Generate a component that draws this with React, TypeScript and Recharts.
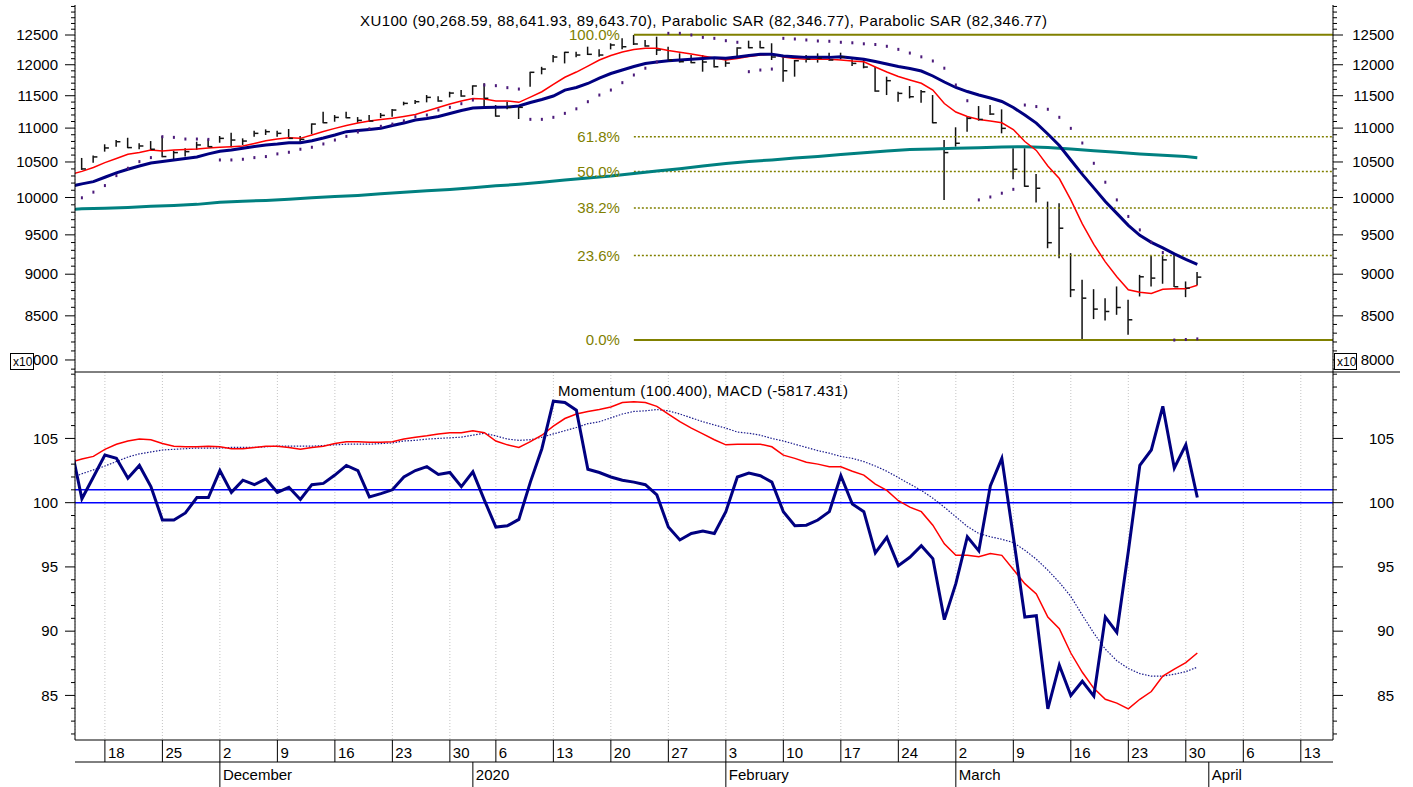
import React from 'react';
import { ComposedChart, Line, Bar, Scatter, XAxis, YAxis, CartesianGrid, ReferenceLine } from 'recharts';

const FONT = "'Liberation Sans', Arial, sans-serif";
const OLIVE = '#808000';

// trading days, index 0 = 14 Nov 2019; line series start one day earlier (13 Nov)
const mondayIdx = [2, 7, 12, 17, 22, 27, 32, 36, 41, 46, 51, 56, 61, 66, 71, 76, 81, 86, 91, 96, 101, 106];
const mondayLabels = ['18', '25', '2', '9', '16', '23', '30', '6', '13', '20', '27', '3', '10', '17', '24', '2', '9', '16', '23', '30', '6', '13'];
const monthIdx = [12, 34, 56, 76, 98];
const monthLabels = ['December', '2020', 'February', 'March', 'April'];

// XU100 / 10, 14 Nov .. 31 Mar
const high = [
  10558, 10592, 10758, 10821, 10855, 10773, 10806, 10881, 10665, 10700,
  10796, 10831, 10881, 10931, 10846, 10960, 10981, 10960, 10986, 10881,
  11072, 11250, 11199, 11250, 11168, 11199, 11230, 11292, 11406, 11432,
  11511, 11490, 11563, 11590, 11666, 11698, 11354, 11406, 11354, 11886,
  11966, 12161, 12216, 12216, 12301, 12256, 12359, 12443, 12500, 12415,
  12471, 12302, 12189, 12161, 12161, 12089, 12089, 12290, 12403, 12403,
  12359, 12161, 12078, 12161, 12189, 12200, 12200, 12089, 12078, 11967,
  11805, 11563, 11655, 11590, 11511, 10821, 11012, 11173, 11338, 11354,
  11287, 10700, 10700, 10329, 9944, 9922, 9264, 8931, 8817, 8709,
  8850, 8689, 8992, 9230, 9242, 9242, 8911, 9027,
];
const low = [
  10386, 10490, 10650, 10723, 10700, 10685, 10675, 10568, 10539, 10578,
  10675, 10714, 10781, 10714, 10748, 10871, 10896, 10871, 10836, 10796,
  10911, 11072, 11097, 11148, 11081, 11097, 11153, 11173, 11349, 11370,
  11396, 11406, 11474, 11484, 11511, 11328, 11173, 11287, 11138, 11644,
  11843, 12041, 12022, 12122, 12161, 12133, 12256, 12256, 12330, 12302,
  12161, 12050, 12035, 12025, 11886, 11956, 11966, 12145, 12273, 12273,
  12078, 11724, 11805, 12035, 12035, 12066, 12089, 11978, 11941, 11563,
  11511, 11406, 11458, 11391, 11072, 9967, 10723, 10946, 11112, 11199,
  10921, 10254, 10147, 9930, 9327, 9200, 8721, 8222, 8462, 8446,
  8512, 8282, 8729, 8850, 8883, 8842, 8721, 8864,
];
const close = [
  10400, 10573, 10704, 10796, 10709, 10733, 10685, 10578, 10636, 10650,
  10748, 10723, 10846, 10821, 10806, 10921, 10946, 10921, 10846, 10831,
  11061, 11081, 11163, 11157, 11117, 11107, 11194, 11276, 11380, 11406,
  11474, 11417, 11542, 11495, 11655, 11460, 11183, 11318, 11318, 11876,
  11929, 12128, 12206, 12161, 12173, 12161, 12330, 12300, 12347, 12313,
  12245, 12078, 12050, 12035, 12045, 11967, 12027, 12279, 12284, 12284,
  12128, 11901, 12066, 12094, 12111, 12078, 12128, 12022, 11962, 11574,
  11740, 11537, 11484, 11563, 11081, 10636, 10773, 11148, 11132, 11214,
  10996, 10395, 10156, 10128, 9398, 9587, 8809, 8709, 8579, 8551,
  8598, 8454, 8968, 8952, 9179, 8846, 8830, 8964,
];
const sar = [
  9996, 10074, 10165, 10305, 10410, 10505, 10563, 10871, 10861, 10836,
  10836, 10831, 10529, 10529, 10539, 10563, 10578, 10617, 10641, 10685,
  10714, 10763, 10821, 10876, 10941, 10989, 11027, 11061, 11110, 11173,
  11199, 11276, 11318, 11375, 11432, 11671, 11660, 11628, 11606, 11133,
  11133, 11164, 11225, 11295, 11406, 11511, 11590, 11708, 11832, 11943,
  12045, 12529, 12529, 12500, 12460, 12443, 12403, 12376, 11886, 11913,
  11929, 12443, 12432, 12415, 12398, 12393, 12376, 12367, 12350, 12338,
  12308, 12256, 12194, 12131, 12062, 11943, 11671, 11421, 9967, 10007,
  10059, 10113, 11354, 11330, 11288, 11164, 10996, 10777, 10481, 10212,
  9967, 9743, 9565, 9404, 9272, 8222, 8228, 8235,
];

// moving averages, 13 Nov .. 31 Mar
const redMA = [
  10322,
  10365, 10421, 10490, 10550, 10612, 10638, 10675, 10660, 10675, 10682,
  10690, 10704, 10714, 10723, 10733, 10770, 10811, 10836, 10855, 10846,
  10896, 10949, 10996, 11039, 11076, 11107, 11130, 11148, 11176, 11207,
  11261, 11315, 11370, 11417, 11456, 11448, 11417, 11417, 11396, 11479,
  11563, 11679, 11795, 11880, 11978, 12078, 12153, 12211, 12253, 12273,
  12273, 12236, 12206, 12178, 12145, 12111, 12078, 12103, 12136, 12161,
  12178, 12128, 12103, 12089, 12089, 12089, 12078, 12061, 12050, 11962,
  11880, 11808, 11751, 11698, 11590, 11377, 11245, 11176, 11132, 11107,
  11081, 10979, 10799, 10668, 10443, 10264, 9967, 9644, 9376, 9154,
  8968, 8809, 8779, 8764, 8815, 8821, 8821, 8864,
];
const navyMA = [
  10154,
  10189, 10220, 10282, 10343, 10396, 10443, 10486, 10507, 10529, 10550,
  10573, 10617, 10656, 10675, 10700, 10726, 10748, 10763, 10782, 10782,
  10811, 10851, 10896, 10946, 10964, 10979, 10996, 11039, 11076, 11122,
  11145, 11176, 11222, 11268, 11307, 11315, 11318, 11323, 11338, 11393,
  11440, 11495, 11590, 11631, 11695, 11783, 11856, 11913, 11970, 12020,
  12045, 12066, 12078, 12089, 12103, 12116, 12106, 12128, 12153, 12173,
  12173, 12145, 12133, 12122, 12122, 12122, 12133, 12111, 12089, 12053,
  12011, 11970, 11937, 11897, 11816, 11719, 11631, 11566, 11511, 11464,
  11409, 11315, 11199, 11076, 10911, 10741, 10529, 10322, 10133, 9946,
  9784, 9625, 9494, 9402, 9331, 9255, 9185, 9122,
];
const tealMA = [
  9838,
  9845, null, 9855, null, 9865, null, 9879, null, 9892, null,
  9906, null, 9936, null, 9949, null, 9960, null, 9977, null,
  9995, null, 10013, null, 10029, null, 10050, null, 10073, null,
  10094, null, 10112, null, 10136, null, 10161, null, 10182, null,
  10210, null, 10244, null, 10272, null, 10300, null, 10336, null,
  10369, null, 10403, null, 10443, null, 10479, null, 10507, null,
  10529, null, 10558, null, 10580, null, 10609, null, 10634, null,
  10660, null, 10680, null, 10690, null, 10699, null, 10708, null,
  10717, null, 10723, null, 10712, null, 10690, null, 10663, null,
  10641, null, 10617, null, 10597, null, 10578, 10562,
];

// lower panel, 13 Nov .. 31 Mar
const momentum = [
  104.6,
  100.3, 102.0, 103.7, 103.45, 101.9, 102.9, 101.25, 98.65, 98.65, 99.2,
  100.4, 100.4, 102.5, 100.8, 101.75, 101.4, 101.85, 100.8, 101.2, 100.25,
  101.4, 101.5, 102.15, 102.9, 102.5, 100.45, 100.7, 101.0, 102.0, 102.5,
  102.8, 102.2, 102.35, 101.25, 102.4, 100.2, 98.1, 98.2, 98.7, 101.6,
  104.2, 107.9, 107.8, 107.2, 102.6, 102.35, 102.0, 101.75, 101.6, 101.4,
  100.6, 98.1, 97.1, 97.6, 97.8, 97.6, 99.3, 102.0, 102.3, 102.1,
  101.6, 99.3, 98.2, 98.25, 98.65, 99.3, 102.1, 99.9, 99.3, 96.1,
  97.3, 95.1, 95.75, 96.65, 95.65, 90.9, 93.7, 97.35, 96.25, 101.3,
  103.45, 97.35, 91.1, 91.2, 83.95, 87.35, 85.0, 86.1, 84.95, 91.1,
  89.9, 96.2, 102.9, 104.1, 107.5, 102.7, 104.5, 100.4,
];
const macd = [
  103.15,
  103.4, 103.6, 104.15, 104.55, 104.8, 104.95, 104.9, 104.6, 104.4, 104.35,
  104.35, 104.4, 104.35, 104.2, 104.2, 104.3, 104.4, 104.4, 104.3, 104.15,
  104.3, 104.4, 104.6, 104.75, 104.75, 104.7, 104.7, 104.75, 104.95, 105.1,
  105.2, 105.35, 105.45, 105.45, 105.6, 105.45, 104.8, 104.5, 104.3, 104.75,
  105.25, 105.95, 106.55, 106.9, 107.1, 107.25, 107.45, 107.8, 107.85, 107.8,
  107.5, 106.9, 106.3, 105.8, 105.35, 104.9, 104.5, 104.55, 104.55, 104.55,
  104.35, 103.7, 103.45, 103.15, 103.0, 102.8, 102.8, 102.45, 102.15, 101.45,
  100.95, 100.15, 99.65, 99.3, 98.25, 96.8, 95.9, 95.9, 95.8, 96.05,
  95.9, 94.8, 93.7, 92.9, 91.1, 90.2, 88.3, 86.8, 85.55, 84.7,
  84.4, 83.95, 84.7, 85.3, 86.5, 87.05, 87.55, 88.3,
];
const signal = [
  101.9,
  102.25, 102.55, 102.85, 103.2, 103.55, 103.8, 103.95, 104.1, 104.15, 104.2,
  104.25, 104.25, 104.25, 104.3, 104.3, 104.3, 104.35, 104.4, 104.4, 104.4,
  104.4, 104.45, 104.5, 104.55, 104.55, 104.55, 104.6, 104.65, 104.8, 104.85,
  104.95, 105.0, 105.05, 105.1, 105.25, 105.4, 105.2, 104.95, 104.85, 104.9,
  105.1, 105.35, 105.6, 105.85, 106.15, 106.3, 106.6, 106.9, 107.1, 107.15,
  107.25, 107.15, 106.9, 106.6, 106.3, 106.05, 105.8, 105.5, 105.4, 105.25,
  105.0, 104.8, 104.55, 104.3, 104.05, 103.85, 103.6, 103.45, 103.2, 102.85,
  102.45, 101.95, 101.45, 100.95, 100.35, 99.65, 98.9, 98.15, 97.6, 97.35,
  97.15, 96.9, 96.3, 95.6, 94.75, 93.8, 92.7, 91.25, 89.85, 88.6,
  87.7, 87.1, 86.7, 86.5, 86.5, 86.65, 86.85, 87.2,
];

// fibonacci retracement (low 17 Mar, high 22 Jan)
const fibStart = 48;
const fibLabels = ['0.0%', '23.6%', '38.2%', '50.0%', '61.8%', '100.0%'];
const fibValues = [8222, 9233, 9858, 10364, 10869, 12505];

const priceTicks = [
  7900, 8000, 8100, 8200, 8300, 8400, 8500, 8600, 8700, 8800, 8900, 9000, 9100, 9200, 9300,
  9400, 9500, 9600, 9700, 9800, 9900, 10000, 10100, 10200, 10300, 10400, 10500, 10600, 10700,
  10800, 10900, 11000, 11100, 11200, 11300, 11400, 11500, 11600, 11700, 11800, 11900, 12000,
  12100, 12200, 12300, 12400, 12500, 12600, 12700, 12800, 12900, 13000,
];
const momTicks = [
  82, 83, 84, 85, 86, 87, 88, 89, 90, 91, 92, 93, 94, 95, 96, 97, 98, 99, 100,
  101, 102, 103, 104, 105, 106, 107, 108, 109, 110,
];

const X_DOMAIN: [number, number] = [-0.6, 108.8];

const topRows = redMA.map((r, k) => {
  const j = k - 1;
  return {
    i: j,
    red: r,
    navy: navyMA[k],
    teal: tealMA[k],
    hl: j >= 0 ? [low[j], high[j]] : null,
    close: j >= 0 ? close[j] : null,
    sar: j >= 0 ? sar[j] : null,
  };
});
const barRows = topRows.filter((r) => r.close != null);

const lowRows = momentum.map((m, k) => ({ i: k - 1, mom: m, macd: macd[k], sig: signal[k] }));

function ValueTick(props: any) {
  const { x, y, payload, side, isMajor } = props;
  const v = payload.value;
  const major = isMajor(v);
  const len = major ? 10 : 4;
  const left = side === 'l';
  return (
    <g>
      <line x1={left ? x - len : x} x2={left ? x : x + len} y1={y} y2={y} stroke="#000" />
      {major && (
        <text x={left ? x - 17 : x + 61} y={y} dy="0.35em" textAnchor="end" fontSize={15} fontFamily={FONT} fill="#000">
          {v}
        </text>
      )}
    </g>
  );
}

function DateTick(props: any) {
  const { x, y, payload, ticks, labels, h } = props;
  const n = ticks.indexOf(payload.value);
  return (
    <g>
      <line x1={x} x2={x} y1={y} y2={y + h} stroke="#000" />
      <text x={x + 3} y={y + 18} fontSize={15} fontFamily={FONT} fill="#000">
        {labels[n]}
      </text>
    </g>
  );
}

const isPriceMajor = (v: number) => v % 500 === 0 && v <= 12500;
const isMomMajor = (v: number) => v % 5 === 0 && v >= 85 && v <= 105;

export default function App() {
  return (
    <div style={{ position: 'absolute', left: 0, top: 0, width: 1413, height: 787, background: '#fff', fontFamily: FONT }}>
      <div style={{ position: 'absolute', left: 0, top: 0 }}>
        <ComposedChart width={1413} height={372} data={topRows} margin={{ top: 5, right: 0, bottom: 0, left: 0 }}>
          <CartesianGrid horizontal={false} stroke="#c4c4c4" strokeDasharray="1 2" />
          <XAxis dataKey="i" type="number" domain={X_DOMAIN} allowDataOverflow ticks={mondayIdx} height={0}
            tick={false} axisLine={false} tickLine={false} />
          <YAxis yAxisId="l" orientation="left" width={75} scale="log" domain={[7869, 13026]} allowDataOverflow
            ticks={priceTicks} interval={0} tickSize={0} tickMargin={0} axisLine={{ stroke: '#000' }} tickLine={false}
            tick={(p: any) => <ValueTick {...p} side="l" isMajor={isPriceMajor} />} />
          <YAxis yAxisId="r" orientation="right" width={80} scale="log" domain={[7869, 13026]} allowDataOverflow
            ticks={priceTicks} interval={0} tickSize={0} tickMargin={0} axisLine={{ stroke: '#000' }} tickLine={false}
            tick={(p: any) => <ValueTick {...p} side="r" isMajor={isPriceMajor} />} />
          {fibValues.map((v, n) => (
            <ReferenceLine key={n} yAxisId="l" segment={[{ x: fibStart, y: v }, { x: X_DOMAIN[1], y: v }]}
              stroke={OLIVE} strokeWidth={n === 0 || n === 5 ? 2 : 1.5} strokeDasharray={n === 0 || n === 5 ? undefined : '2 2'}
              label={{ value: fibLabels[n], position: 'left', offset: 14, fill: OLIVE, fontSize: 15, fontFamily: FONT }} />
          ))}
          <Bar yAxisId="l" data={barRows} dataKey="hl" barSize={3} isAnimationActive={false}
            shape={(p: any) => {
              const cx = p.x + p.width / 2;
              const top = Math.min(p.y, p.y + p.height);
              return <line x1={cx} x2={cx} y1={top} y2={top + Math.abs(p.height)} stroke="#111" strokeWidth={1.5} />;
            }} />
          <Scatter yAxisId="r" data={barRows} dataKey="close" isAnimationActive={false}
            shape={(p: any) => (Number.isFinite(p.cy) ? <line x1={p.cx} x2={p.cx + 4} y1={p.cy} y2={p.cy} stroke="#111" strokeWidth={1.5} /> : <g />)} />
          <Line yAxisId="l" dataKey="teal" stroke="#008080" strokeWidth={3} dot={false} connectNulls isAnimationActive={false} />
          <Line yAxisId="l" dataKey="red" stroke="#ff0000" strokeWidth={1.5} dot={false} isAnimationActive={false} />
          <Line yAxisId="l" dataKey="navy" stroke="#000080" strokeWidth={3} dot={false} isAnimationActive={false} />
          <Scatter yAxisId="r" data={barRows} dataKey="sar" isAnimationActive={false}
            shape={(p: any) => (Number.isFinite(p.cy) ? <rect x={p.cx - 1} y={p.cy - 1.5} width={2} height={3} fill="#4b1a7a" /> : <g />)} />
        </ComposedChart>
      </div>
      <div style={{ position: 'absolute', left: 0, top: 372 }}>
        <ComposedChart width={1413} height={415} data={lowRows} margin={{ top: 0, right: 0, bottom: 0, left: 0 }}>
          <CartesianGrid horizontal={false} stroke="#c4c4c4" strokeDasharray="1 2" />
          <XAxis dataKey="i" type="number" domain={X_DOMAIN} allowDataOverflow ticks={mondayIdx} interval={0} height={22}
            tickSize={0} tickMargin={0} tickLine={false} axisLine={{ stroke: '#000' }}
            tick={(p: any) => <DateTick {...p} ticks={mondayIdx} labels={mondayLabels} h={22} />} />
          <XAxis xAxisId="m" dataKey="i" type="number" domain={X_DOMAIN} allowDataOverflow ticks={monthIdx} interval={0} height={25}
            tickSize={0} tickMargin={0} tickLine={false} axisLine={{ stroke: '#000' }}
            tick={(p: any) => <DateTick {...p} ticks={monthIdx} labels={monthLabels} h={25} />} />
          <YAxis yAxisId="l" orientation="left" width={75} domain={[81.53, 110.17]} allowDataOverflow
            ticks={momTicks} interval={0} tickSize={0} tickMargin={0} axisLine={{ stroke: '#000' }} tickLine={false}
            tick={(p: any) => <ValueTick {...p} side="l" isMajor={isMomMajor} />} />
          <YAxis yAxisId="r" orientation="right" width={80} domain={[81.53, 110.17]} allowDataOverflow
            ticks={momTicks} interval={0} tickSize={0} tickMargin={0} axisLine={{ stroke: '#000' }} tickLine={false}
            tick={(p: any) => <ValueTick {...p} side="r" isMajor={isMomMajor} />} />
          <ReferenceLine yAxisId="l" y={100} stroke="#0000ff" strokeWidth={1.5} />
          <ReferenceLine yAxisId="r" xAxisId="m" y={101} stroke="#0000ff" strokeWidth={1.5} />
          <Line yAxisId="l" dataKey="sig" stroke="#1a1a8c" strokeWidth={1.2} strokeDasharray="1.5 1.5" dot={false} isAnimationActive={false} />
          <Line yAxisId="l" dataKey="macd" stroke="#ff0000" strokeWidth={1.5} dot={false} isAnimationActive={false} />
          <Line yAxisId="l" dataKey="mom" stroke="#000080" strokeWidth={3} dot={false} isAnimationActive={false} />
        </ComposedChart>
      </div>
      <svg width={1413} height={787} style={{ position: 'absolute', left: 0, top: 0, pointerEvents: 'none' }}>
        <line x1={75} x2={1400} y1={372} y2={372} stroke="#000" />
        <text x={360} y={26} fontSize={15} fontFamily={FONT} fill="#000" textLength={687} lengthAdjust="spacing">
          XU100 (90,268.59, 88,641.93, 89,643.70), Parabolic SAR (82,346.77), Parabolic SAR (82,346.77)
        </text>
        <text x={558} y={395.5} fontSize={15} fontFamily={FONT} fill="#000" textLength={290} lengthAdjust="spacing">
          Momentum (100.400), MACD (-5817.431)
        </text>
        <rect x={10.5} y={353.5} width={23} height={16} fill="#fff" stroke="#000" />
        <text x={13} y={366} fontSize={12} fontFamily={FONT} fill="#000">x10</text>
        <rect x={1334.5} y={353.5} width={22} height={16} fill="#fff" stroke="#000" />
        <text x={1337} y={366} fontSize={12} fontFamily={FONT} fill="#000">x10</text>
      </svg>
    </div>
  );
}
